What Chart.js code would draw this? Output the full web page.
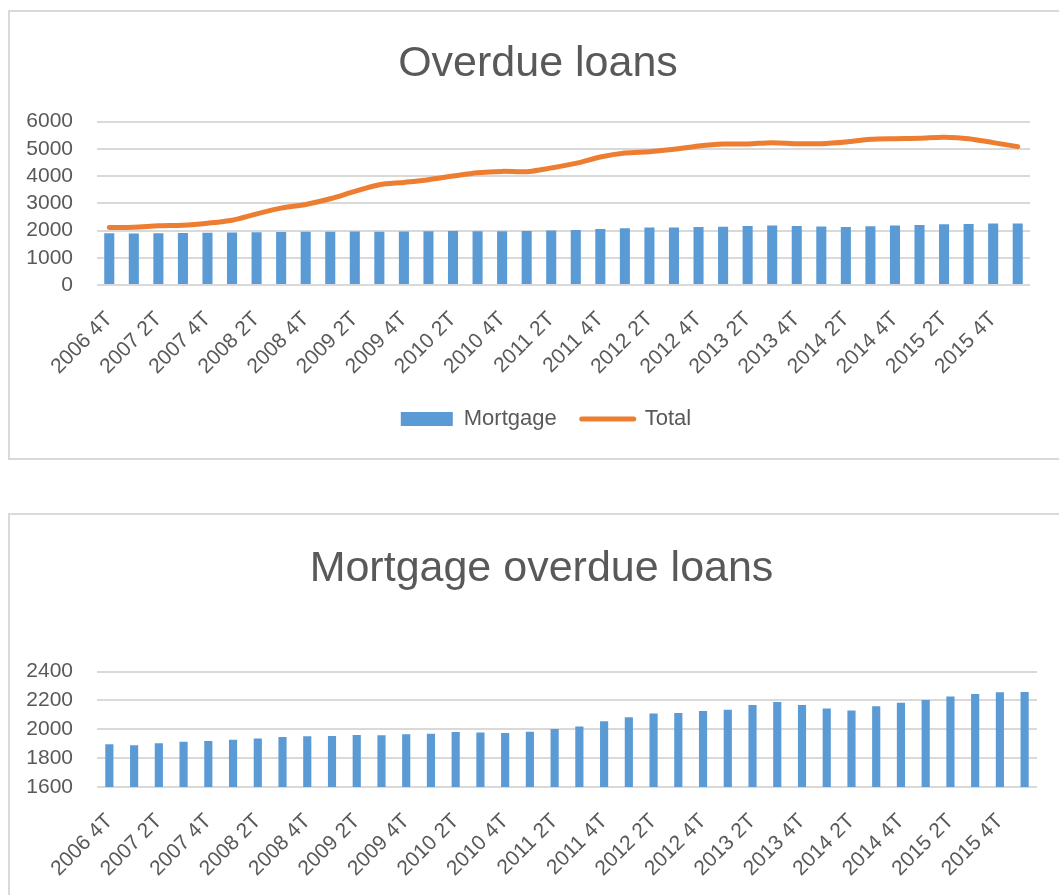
<!DOCTYPE html>
<html lang="en">
<head>
    <meta charset="UTF-8">
    <title>Overdue loans</title>
    <script src="https://cdn.jsdelivr.net/npm/chart.js"></script>
    <style>
        body {
            margin: 0;
            padding: 0;
            background: #ffffff;
            font-family: "Liberation Sans", Arial, sans-serif;
        }

        .page {
            position: relative;
            width: 1059px;
            height: 895px;
            overflow: hidden;
        }

        .box {
            position: absolute;
            left: 8px;
            width: 1080px;
            box-sizing: border-box;
            border: 2px solid #d9d9d9;
        }

        #box1 { top: 10px; height: 450px; }
        #box2 { top: 513px; height: 420px; }

        .wrap {
            position: absolute;
            left: 0;
            width: 1059px;
        }

        #wrap1 { top: 0; height: 460px; }
        #wrap2 { top: 460px; height: 435px; }
    </style>
</head>
<body>
<div class="page">

    <div class="box" id="box1"></div>
    <div class="box" id="box2"></div>

    <div class="wrap" id="wrap1"><canvas id="chartTotal"></canvas></div>
    <div class="wrap" id="wrap2"><canvas id="chartMortgage"></canvas></div>

</div>
    <script>
        // quarters
        const quarters = [
            '2006 4T',
            '2007 1T', '2007 2T', '2007 3T', '2007 4T',
            '2008 1T', '2008 2T', '2008 3T', '2008 4T',
            '2009 1T', '2009 2T', '2009 3T', '2009 4T',
            '2010 1T', '2010 2T', '2010 3T', '2010 4T',
            '2011 1T', '2011 2T', '2011 3T', '2011 4T',
            '2012 1T', '2012 2T', '2012 3T', '2012 4T',
            '2013 1T', '2013 2T', '2013 3T', '2013 4T',
            '2014 1T', '2014 2T', '2014 3T', '2014 4T',
            '2015 1T', '2015 2T', '2015 3T', '2015 4T',
            '2016 1T'
        ];

        const mortgage = [
            1896, 1889, 1903, 1914, 1919, 1928, 1937, 1947, 1951, 1953,
            1960, 1958, 1965, 1970, 1981, 1977, 1974, 1983, 2002, 2020,
            2055, 2083, 2110, 2113, 2127, 2136, 2168, 2189, 2168, 2145,
            2131, 2159, 2184, 2203, 2228, 2244, 2256, 2258
        ];

        const total = [
            2110, 2123, 2172, 2196, 2270, 2380, 2613, 2822, 2957, 3166,
            3436, 3681, 3767, 3865, 4000, 4123, 4172, 4160, 4300, 4466,
            4700, 4847, 4896, 4982, 5104, 5178, 5178, 5227, 5190, 5190,
            5252, 5350, 5374, 5387, 5423, 5374, 5227, 5080
        ];

        const ticksTotal = [0, 1000, 2000, 3000, 4000, 5000, 6000];
        const ticksMortgage = [1600, 1800, 2000, 2200, 2400];

        const textColor = '#595959';
        const gridColor = '#d9d9d9';
        const blue = '#5b9bd5';
        const orange = '#ed7d31';
        const fontFamily = '"Liberation Sans", Arial, sans-serif';

        Chart.defaults.font.family = fontFamily;
        Chart.defaults.color = textColor;
        Chart.defaults.animation = false;
        Chart.defaults.responsive = true;
        Chart.defaults.maintainAspectRatio = false;

        // title and legend sit a bit right of the canvas centre in the original
        const nudgeBoxes = {
            id: 'nudgeBoxes',
            afterLayout(chart, args, opts) {
                if (chart.titleBlock) {
                    chart.titleBlock.left += opts.title;
                    chart.titleBlock.right += opts.title;
                }
                if (chart.legend) {
                    chart.legend.left += opts.legend;
                    chart.legend.right += opts.legend;
                }
            }
        };

        function xAxis(height) {
            return {
                grid: { display: false },
                border: { display: false },
                ticks: {
                    autoSkip: false,
                    minRotation: 45,
                    maxRotation: 45,
                    padding: 14,
                    font: { size: 21 },
                    color: textColor,
                    callback: (v, i) => i % 2 === 0 ? quarters[i] : ''
                },
                afterFit: s => { s.height = height; }
            };
        }

        function yAxis(tickValues) {
            return {
                min: tickValues[0],
                max: tickValues[tickValues.length - 1],
                border: { display: false },
                grid: { color: gridColor, lineWidth: 2, drawTicks: false },
                afterBuildTicks: s => { s.ticks = tickValues.map(v => ({ value: v })); },
                ticks: {
                    autoSkip: false,
                    padding: 24,
                    font: { size: 21 },
                    color: textColor,
                    callback: v => String(v)
                },
                afterFit: s => { s.width = 97; }
            };
        }

        new Chart(document.getElementById('chartTotal'), {
            type: 'bar',
            plugins: [nudgeBoxes],
            data: {
                labels: quarters,
                datasets: [{
                    type: 'bar',
                    label: 'Mortgage',
                    data: mortgage,
                    backgroundColor: blue,
                    borderWidth: 0,
                    categoryPercentage: 1,
                    barPercentage: 0.41,
                    order: 1
                }, {
                    type: 'line',
                    label: 'Total',
                    data: total,
                    borderColor: orange,
                    backgroundColor: orange,
                    borderWidth: 5,
                    borderCapStyle: 'round',
                    pointRadius: 0,
                    tension: 0.3,
                    order: 0
                }]
            },
            options: {
                layout: { padding: { left: 0, right: 29, top: 0, bottom: 20 } },
                plugins: {
                    nudgeBoxes: { title: 23, legend: 31 },
                    title: {
                        display: true,
                        text: 'Overdue loans',
                        color: textColor,
                        font: { size: 43, weight: 'normal' },
                        padding: { top: 38, bottom: 32 }
                    },
                    legend: {
                        position: 'bottom',
                        labels: {
                            usePointStyle: true,
                            pointStyleWidth: 52,
                            boxHeight: 14,
                            padding: 25,
                            font: { size: 22 },
                            color: textColor,
                            generateLabels: chart => chart.data.datasets.map((ds, i) => ({
                                text: ds.label,
                                datasetIndex: i,
                                fillStyle: ds.backgroundColor,
                                strokeStyle: ds.type === 'line' ? ds.borderColor : ds.backgroundColor,
                                lineWidth: ds.type === 'line' ? 5 : 0,
                                lineCap: 'round',
                                pointStyle: ds.type === 'line' ? 'line' : 'rect',
                                fontColor: textColor
                            }))
                        }
                    },
                    tooltip: { enabled: false }
                },
                scales: {
                    x: xAxis(98),
                    y: yAxis(ticksTotal)
                }
            }
        });

        new Chart(document.getElementById('chartMortgage'), {
            type: 'bar',
            plugins: [nudgeBoxes],
            data: {
                labels: quarters,
                datasets: [{
                    label: 'Mortgage',
                    data: mortgage,
                    backgroundColor: blue,
                    borderWidth: 0,
                    categoryPercentage: 1,
                    barPercentage: 0.33
                }]
            },
            options: {
                layout: { padding: { left: 0, right: 22, top: 0, bottom: 0 } },
                plugins: {
                    nudgeBoxes: { title: 23, legend: 0 },
                    title: {
                        display: true,
                        text: 'Mortgage overdue loans',
                        color: textColor,
                        font: { size: 43, weight: 'normal' },
                        padding: { top: 83, bottom: 77 }
                    },
                    legend: { display: false },
                    tooltip: { enabled: false }
                },
                scales: {
                    x: xAxis(108),
                    y: yAxis(ticksMortgage)
                }
            }
        });
    </script>
</body>
</html>
